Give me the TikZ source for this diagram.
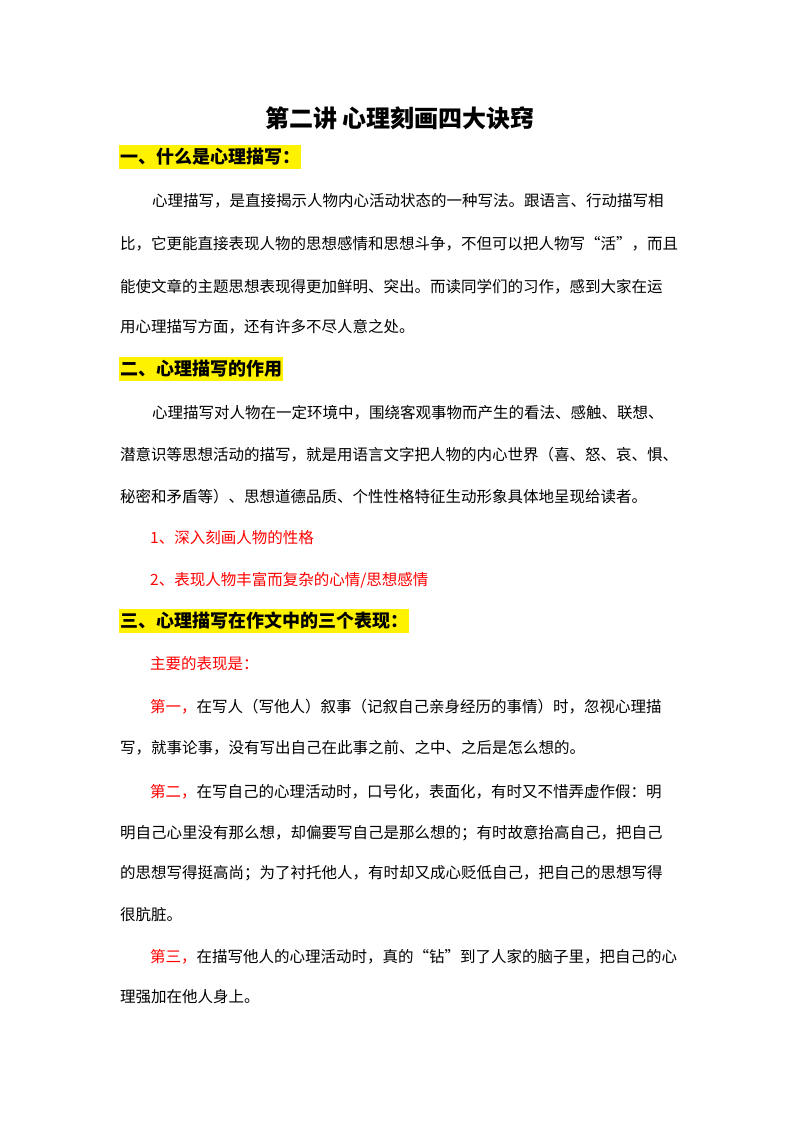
\documentclass[tikz,border=0pt]{standalone}
\usepackage{fontspec}
\setmainfont{Noto Sans CJK SC}
\begin{document}
\begin{tikzpicture}[x=1pt,y=-1pt,
  body/.style={anchor=west,inner sep=0pt,font=\fontsize{15.5}{18}\selectfont},
  red/.style={body,text=red},
  head/.style={anchor=west,inner xsep=1pt,inner ysep=3pt,fill=yellow,font=\fontsize{18}{20}\selectfont\bfseries}]
\useasboundingbox (0,0) rectangle (800,1132);
\fill[white] (0,0) rectangle (800,1132);
\node[font=\fontsize{24}{26}\selectfont\bfseries,inner sep=0pt] (t) at (400,118) {第二讲\ 心理刻画四大诀窍};
\node[head] (h1) at (119,157) {一、什么是心理描写：};
\node[body] (p1a) at (152,201) {心理描写，是直接揭示人物内心活动状态的一种写法。跟语言、行动描写相};
\node[body] (p1b) at (120,244) {比，它更能直接表现人物的思想感情和思想斗争，不但可以把人物写“活”，而且};
\node[body] (p1c) at (120,287) {能使文章的主题思想表现得更加鲜明、突出。而读同学们的习作，感到大家在运};
\node[body] (p1d) at (120,327) {用心理描写方面，还有许多不尽人意之处。};
\node[head] (h2) at (119,369) {二、心理描写的作用};
\node[body] (p2a) at (152,413) {心理描写对人物在一定环境中，围绕客观事物而产生的看法、感触、联想、};
\node[body] (p2b) at (120,455) {潜意识等思想活动的描写，就是用语言文字把人物的内心世界（喜、怒、哀、惧、};
\node[body] (p2c) at (120,497) {秘密和矛盾等）、思想道德品质、个性性格特征生动形象具体地呈现给读者。};
\node[red] (r1) at (150,538) {1、深入刻画人物的性格};
\node[red] (r2) at (150,580) {2、表现人物丰富而复杂的心情/思想感情};
\node[head] (h3) at (119,621) {三、心理描写在作文中的三个表现：};
\node[red] (r3) at (150,664) {主要的表现是：};
\node[body] (a1) at (150,707) {\textcolor{red}{第一，}在写人（写他人）叙事（记叙自己亲身经历的事情）时，忽视心理描};
\node[body] (a2) at (120,748) {写，就事论事，没有写出自己在此事之前、之中、之后是怎么想的。};
\node[body] (b1) at (150,792) {\textcolor{red}{第二，}在写自己的心理活动时，口号化，表面化，有时又不惜弄虚作假：明};
\node[body] (b2) at (120,833) {明自己心里没有那么想，却偏要写自己是那么想的；有时故意抬高自己，把自己};
\node[body] (b3) at (120,873) {的思想写得挺高尚；为了衬托他人，有时却又成心贬低自己，把自己的思想写得};
\node[body] (b4) at (120,915) {很肮脏。};
\node[body] (c1) at (150,957) {\textcolor{red}{第三，}在描写他人的心理活动时，真的“钻”到了人家的脑子里，把自己的心};
\node[body] (c2) at (120,997) {理强加在他人身上。};
\end{tikzpicture}
\end{document}
